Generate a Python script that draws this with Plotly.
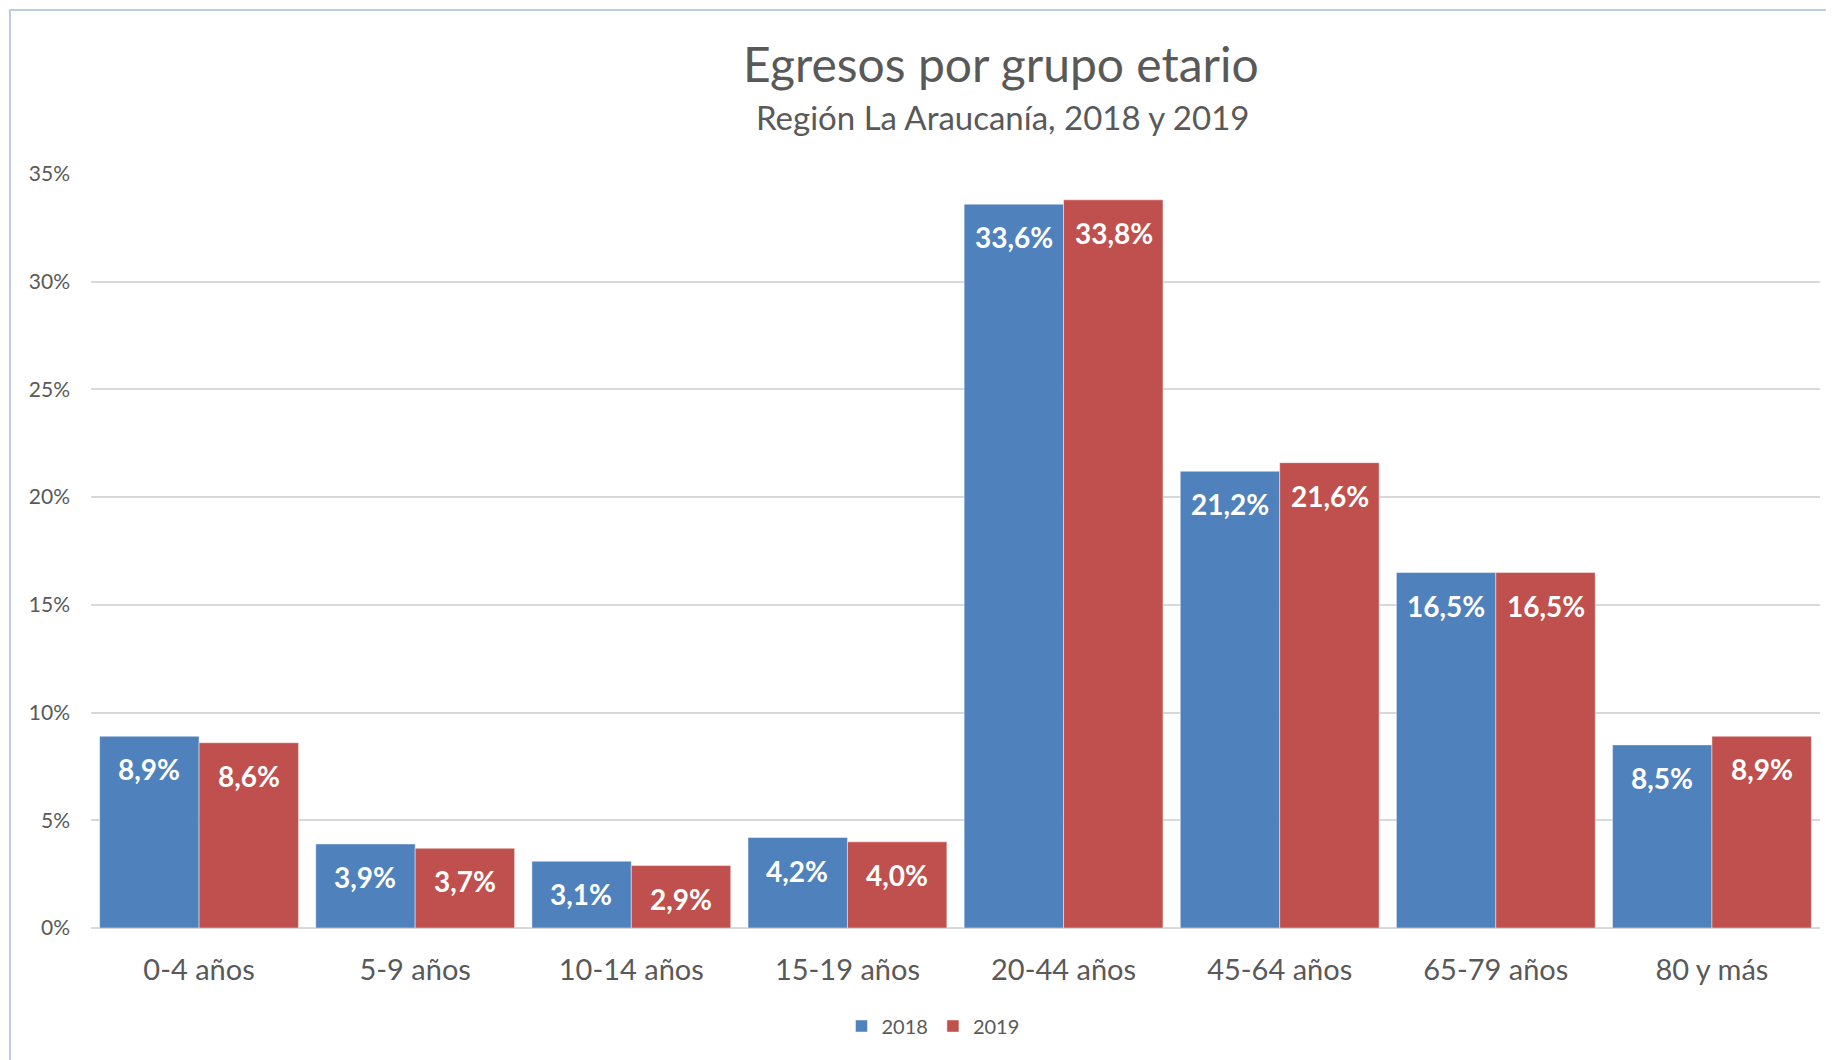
import plotly.graph_objects as go

categorias = ['0-4 años', '5-9 años', '10-14 años', '15-19 años',
              '20-44 años', '45-64 años', '65-79 años', '80 y más']
valores_2018 = [8.9, 3.9, 3.1, 4.2, 33.6, 21.2, 16.5, 8.5]
valores_2019 = [8.6, 3.7, 2.9, 4.0, 33.8, 21.6, 16.5, 8.9]
ticks_y = [0, 5, 10, 15, 20, 25, 30, 35]
ticks_y_texto = [f'{t}%' for t in ticks_y]

azul = '#4f81bd'
rojo = '#c0504d'
gris = '#595959'
fuente = 'Lato, Open Sans, sans-serif'

# la página tiene 8 px de margen en el body
OFF = 8
W, H = 1834 - OFF, 1060 - OFF
ml, mr, mt, mb = 91 - OFF, 14, 174 - OFF, 132
ancho_plot = W - ml - mr
alto_plot = H - mt - mb


def px_x(p):
    return (p - OFF - ml) / ancho_plot


def px_y(p):
    return (H - mb - (p - OFF)) / alto_plot


fig = go.Figure()
for nombre, vals, color in [('2018', valores_2018, azul), ('2019', valores_2019, rojo)]:
    fig.add_trace(go.Bar(x=categorias, y=vals, name=nombre,
                         marker=dict(color=color, line=dict(color='rgba(255,255,255,0.45)', width=1))))

# etiquetas de datos (posición "extremo interno" como en Excel)
anotaciones = []
for vals, dx in [(valores_2018, -50), (valores_2019, 50)]:
    for cat, v in zip(categorias, vals):
        anotaciones.append(dict(x=cat, y=v, xref='x', yref='y', xshift=dx, yshift=-33,
                                text=f'{v:.1f}%'.replace('.', ','), showarrow=False,
                                yanchor='middle',
                                font=dict(family=fuente, size=28, color='white', weight='bold')))

anotaciones.append(dict(x=px_x(1001), y=px_y(64), xref='paper', yref='paper', showarrow=False,
                        text='Egresos por grupo etario', yanchor='middle',
                        font=dict(family=fuente, size=48, color=gris)))
anotaciones.append(dict(x=px_x(1002), y=px_y(117), xref='paper', yref='paper', showarrow=False,
                        text='Región La Araucanía, 2018 y 2019', yanchor='middle',
                        font=dict(family=fuente, size=33, color=gris)))

fig.update_layout(
    width=W, height=H,
    margin=dict(l=ml, r=mr, t=mt, b=mb),
    paper_bgcolor='white', plot_bgcolor='white',
    barmode='group', bargap=0.08, bargroupgap=0,
    font=dict(family=fuente, color=gris),
    annotations=anotaciones,
    legend=dict(orientation='h', x=px_x(933), xanchor='center', y=px_y(1026), yanchor='middle',
                font=dict(size=20, color=gris), itemwidth=30, tracegroupgap=0),
    shapes=[dict(type='rect', xref='paper', yref='paper',
                 x0=px_x(10), y0=px_y(1080), x1=px_x(1900), y1=px_y(10),
                 line=dict(color='#b9cde5', width=2), layer='below')],
    xaxis=dict(range=[-0.5, 7.5], showgrid=False, showline=False, zeroline=False,
               tickfont=dict(size=29, color=gris), ticklabelstandoff=22, ticks=''),
    yaxis=dict(range=[0, 35], tickmode='array', tickvals=ticks_y, ticktext=ticks_y_texto,
               showgrid=True, gridcolor='#d9d9d9', gridwidth=1.5, zeroline=True,
               zerolinecolor='#d9d9d9', zerolinewidth=1.5,
               tickfont=dict(size=21, color=gris), ticklabelstandoff=20, showline=False),
)

fig.write_html('out.html')
